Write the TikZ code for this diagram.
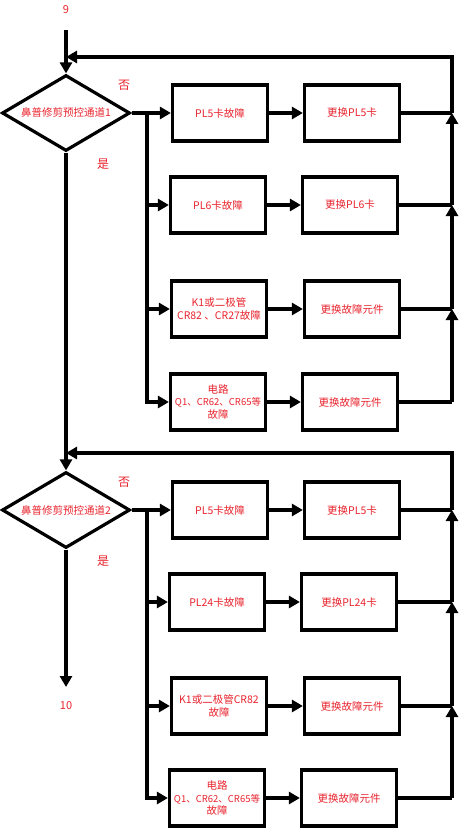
\documentclass[tikz,border=0pt]{standalone}
\usepackage{fontspec}
\setmainfont{Noto Sans CJK SC}
\usetikzlibrary{shapes.geometric,arrows.meta}
\definecolor{txt}{RGB}{232,35,45}
\begin{document}
\begin{tikzpicture}[x=1pt,y=-1pt,
  line width=3.2pt,
  box/.style={draw, minimum width=95pt, minimum height=56pt, inner sep=1pt, text=txt,
    font=\fontsize{10.5}{12.5}\selectfont, align=center},
  dia/.style={draw, diamond, shape aspect=1.68, minimum width=128pt, minimum height=76pt,
    inner sep=0pt, text=txt, font=\fontsize{10.5}{12}\selectfont},
  lab/.style={text=txt, font=\fontsize{12}{14}\selectfont, inner sep=0pt},
  num/.style={text=txt, font=\fontsize{11}{13}\selectfont, inner sep=0pt},
  arr/.style={-{Triangle[length=11pt,width=12pt]}},
]
\useasboundingbox (0,0) rectangle (458,829);

% ---------- section 1 ----------
\node[num] (n9) at (66,10) {9};
\coordinate (s9) at (66,30);
\node[dia] (d1) at (66,113) {鼻普修剪预控通道1};
\node[lab] (no1) at (124,85) {否};
\node[lab] (yes1) at (103,164) {是};

\node[box] (a1) at (220,113) {PL5卡故障};
\node[box] (a2) at (218,205) {PL6卡故障};
\node[box] (a3) at (219,309) {K1或二极管\\CR82 、CR27故障};
\node[box] (a4) at (218,402) {电路\\{\fontsize{9.5}{12.5}\selectfont Q1、CR62、CR65等}\\故障};

\node[box] (r1) at (352,113) {更换PL5卡};
\node[box] (r2) at (350,205) {更换PL6卡};
\node[box] (r3) at (352,309) {更换故障元件};
\node[box] (r4) at (350,402) {更换故障元件};

\coordinate (b1) at (147,113);
\coordinate (c1) at (452,113);
\coordinate (c2) at (452,205);
\coordinate (c3) at (452,309);
\coordinate (c4) at (452,402);
\coordinate (f1) at (66,57);

\draw[arr] (s9) -- (d1.north);
\draw[arr] (d1.east) -- (a1.west);
\draw[arr] (b1) |- (a2.west);
\draw[arr] (b1) |- (a3.west);
\draw[arr] (b1) |- (a4.west);
\draw[arr] (a1.east) -- (r1.west);
\draw[arr] (a2.east) -- (r2.west);
\draw[arr] (a3.east) -- (r3.west);
\draw[arr] (a4.east) -- (r4.west);
\draw (r1.east) -- (c1);
\draw (r2.east) -- (c2);
\draw (r3.east) -- (c3);
\draw (r4.east) -- (c4);
\draw[arr] (c4) -- (c3);
\draw[arr] (c3) -- (c2);
\draw[arr] (c2) -- (c1);
\draw[arr] (c1) |- (f1);

% ---------- section 2 ----------
\node[dia] (d2) at (66,510) {鼻普修剪预控通道2};
\node[lab] (no2) at (124,482) {否};
\node[lab] (yes2) at (103,561) {是};

\node[box] (p1) at (220,510) {PL5卡故障};
\node[box] (p2) at (217,602) {PL24卡故障};
\node[box] (p3) at (219,706) {K1或二极管CR82\\故障};
\node[box] (p4) at (217,798) {电路\\{\fontsize{9.5}{12.5}\selectfont Q1、CR62、CR65等}\\故障};

\node[box] (q1) at (352,510) {更换PL5卡};
\node[box] (q2) at (349,602) {更换PL24卡};
\node[box] (q3) at (352,706) {更换故障元件};
\node[box] (q4) at (349,798) {更换故障元件};

\coordinate (b2) at (147,510);
\coordinate (e1) at (452,510);
\coordinate (e2) at (452,602);
\coordinate (e3) at (452,706);
\coordinate (e4) at (452,798);
\coordinate (f2) at (66,453);
\coordinate (t10) at (66,687);
\node[num] (n10) at (66,706) {10};

\draw[arr] (d1.south) -- (d2.north);
\draw[arr] (d2.east) -- (p1.west);
\draw[arr] (b2) |- (p2.west);
\draw[arr] (b2) |- (p3.west);
\draw[arr] (b2) |- (p4.west);
\draw[arr] (p1.east) -- (q1.west);
\draw[arr] (p2.east) -- (q2.west);
\draw[arr] (p3.east) -- (q3.west);
\draw[arr] (p4.east) -- (q4.west);
\draw (q1.east) -- (e1);
\draw (q2.east) -- (e2);
\draw (q3.east) -- (e3);
\draw (q4.east) -- (e4);
\draw[arr] (e4) -- (e3);
\draw[arr] (e3) -- (e2);
\draw[arr] (e2) -- (e1);
\draw[arr] (e1) |- (f2);
\draw[arr] (d2.south) -- (t10);
\end{tikzpicture}
\end{document}
